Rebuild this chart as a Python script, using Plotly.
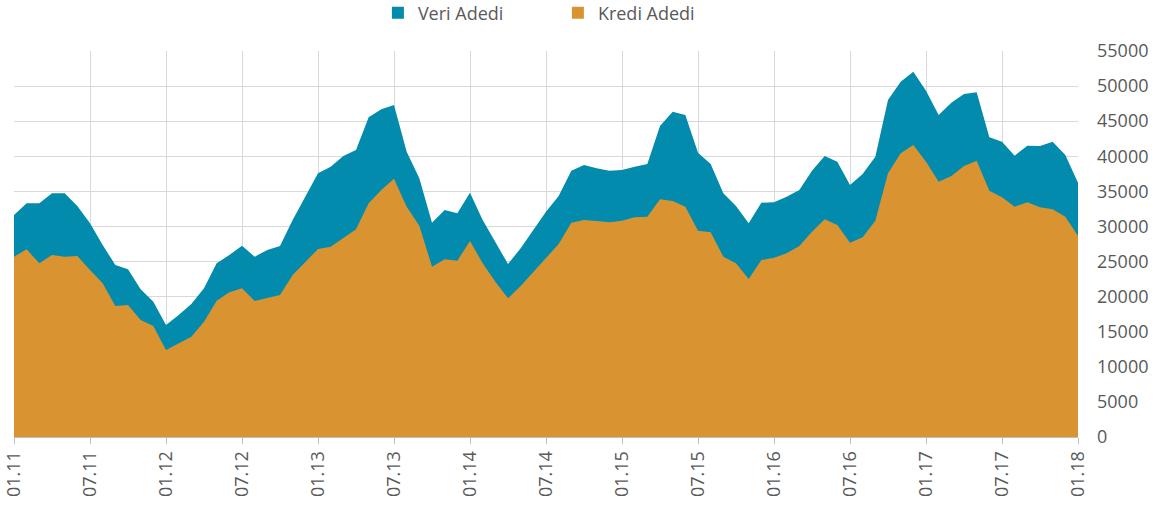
import plotly.graph_objects as go

# months 01.11 .. 01.18
months = [f"{m:02d}.{y:02d}" for y in range(11, 18) for m in range(1, 13)] + ["01.18"]

veri_adedi = [
    31630, 33300, 33300, 34720, 34720, 32920, 30440, 27360, 24510, 23890, 21040, 19280,
    15960, 17380, 18950, 21190, 24740, 25930, 27260, 25690, 26650, 27220, 30920, 34240,
    37570, 38520, 40040, 40900, 45550, 46690, 47310, 40650, 36860, 30540, 32350, 31870,
    34810, 30920, 27830, 24650, 26890, 29590, 32110, 34340, 37950, 38760, 38280, 37950,
    38050, 38520, 38900, 44310, 46350, 45880, 40510, 38900, 34720, 32920, 30440, 33390,
    33450, 34240, 35190, 37950, 40040, 39230, 35910, 37470, 39940, 48020, 50630, 52060,
    49350, 45880, 47640, 48870, 49110, 42700, 42080, 40090, 41510, 41470, 42080, 40180,
    36240,
]
kredi_adedi = [
    25690, 26740, 24740, 25930, 25690, 25790, 23800, 21900, 18670, 18810, 16670, 15820,
    12400, 13350, 14290, 16430, 19420, 20620, 21190, 19380, 19760, 20230, 23080, 24980,
    26790, 27120, 28310, 29590, 33300, 35190, 36800, 32820, 30100, 24270, 25310, 25120,
    27930, 24740, 22130, 19760, 21520, 23560, 25600, 27500, 30540, 30920, 30780, 30590,
    30820, 31300, 31390, 33870, 33630, 32820, 29400, 29160, 25690, 24740, 22510, 25220,
    25530, 26170, 27220, 29260, 31020, 30210, 27690, 28450, 30820, 37570, 40420, 41610,
    39230, 36380, 37190, 38610, 39370, 35100, 34150, 32820, 33440, 32730, 32440, 31390,
    28640,
]

TEAL = "#028BAC"
ORANGE = "#D99331"

x = list(range(len(months)))
tick_idx = list(range(0, len(months), 6))

fig = go.Figure()
fig.add_trace(go.Scatter(
    x=x, y=veri_adedi, name="Veri Adedi", mode="lines", showlegend=False,
    fill="tozeroy", fillcolor=TEAL, line=dict(color=TEAL, width=0),
))
fig.add_trace(go.Scatter(
    x=x, y=kredi_adedi, name="Kredi Adedi", mode="lines", showlegend=False,
    fill="tozeroy", fillcolor=ORANGE, line=dict(color=ORANGE, width=0),
))
# square legend keys like the original
for name, col in [("Veri Adedi", TEAL), ("Kredi Adedi", ORANGE)]:
    fig.add_trace(go.Scatter(
        x=[None], y=[None], name=name, mode="markers",
        marker=dict(symbol="square", size=12, color=col),
    ))

fig.update_layout(
    width=1166, height=508,
    margin=dict(l=14, r=88, t=51, b=71),
    plot_bgcolor="white", paper_bgcolor="white",
    font=dict(family="Open Sans", size=18, color="#595959"),
    showlegend=True,
    legend=dict(orientation="h", x=0.342, xanchor="left", y=0.9744, yanchor="middle",
                yref="container", entrywidth=135, itemwidth=30, font=dict(size=18)),
)

fig.update_xaxes(
    range=[0, len(months) - 1], automargin=False,
    tickmode="array", tickvals=tick_idx, ticktext=[months[i] for i in tick_idx],
    tickangle=-90, showgrid=True, gridcolor="#D9D9D9", gridwidth=1,
    showline=True, linecolor="#BFBFBF", ticks="outside", ticklen=6, tickcolor="#BFBFBF",
    zeroline=False,
)
fig.update_yaxes(
    range=[0, 55000], dtick=5000, side="right", tickformat="d", automargin=False,
    showgrid=True, gridcolor="#D9D9D9", gridwidth=1, zeroline=False,
    ticklabelstandoff=18,
)

# drop the browser's default page margin so the figure sits at the window corner
fig.write_html("out.html", config={"displayModeBar": False},
               post_script="document.body.style.margin='0';")
